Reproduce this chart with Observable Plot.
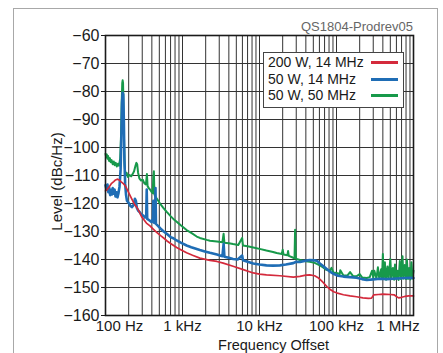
<!DOCTYPE html>
<html><head><meta charset="utf-8">
<script src="https://cdn.jsdelivr.net/npm/d3@7"></script>
<script src="https://cdn.jsdelivr.net/npm/@observablehq/plot@0.6"></script>
<style>
body{margin:0;background:#fff;font-family:"Liberation Sans",Arial,sans-serif;}
#wrap{position:relative;width:443px;height:353px;overflow:hidden;background:#fff;}
#outer{position:absolute;left:13px;top:8px;width:425px;height:400px;border:1px solid #a8a8a8;box-sizing:border-box;}
#chart{position:absolute;left:0;top:0;}
#title{position:absolute;right:30px;top:19px;font-size:13px;color:#666;line-height:16px;white-space:nowrap;}
#legend{position:absolute;left:263px;top:52px;width:141px;height:56px;box-sizing:border-box;border:1px solid #444;background:#fff;padding-top:1px;}
.row{position:relative;height:16.7px;line-height:16.7px;font-size:14px;color:#1a1a1a;padding-left:4px;white-space:nowrap;}
.sw{position:absolute;left:107px;width:27px;height:3px;top:7px;}
</style>
</head><body>
<div id="wrap">
  <div id="outer"></div>
  <div id="chart"></div>
  <div id="title">QS1804-Prodrev05</div>
  <div id="legend"></div>
</div>
<script>
// ---- data ----
const seriesNames = ["200 W, 14 MHz", "50 W, 14 MHz", "50 W, 50 MHz"];
const seriesColors = ["#d42a3c", "#1f6db5", "#17994a"];

const xTickValues = [100, 1000, 10000, 100000, 1000000];
const xTickLabels = ["100 Hz", "1 kHz", "10 kHz", "100 kHz", "1 MHz"];
const yTickValues = [-60, -70, -80, -90, -100, -110, -120, -130, -140, -150, -160];
const yTickLabels = ["−60", "−70", "−80", "−90", "−100", "−110", "−120", "−130", "−140", "−150", "−160"];

// [frequency offset Hz, level dBc/Hz]
const red200W14 = [[100,-115.5],[105,-115],[112,-114],[120,-112.8],[128,-112.2],[135,-111.6],[142,-111.3],[150,-111.6],[160,-112.3],[172,-113],[182,-113.8],[195,-115.5],[208,-117.1],[225,-119],[240,-120.5],[254,-121.3],[275,-123],[295,-124.8],[310,-125.5],[340,-127],[378,-128],[420,-129.2],[462,-130.3],[520,-131.5],[580,-132.5],[624,-133.3],[700,-134.3],[840,-135.7],[950,-136.5],[1130,-137.6],[1350,-138.5],[1680,-139.5],[2270,-140.3],[2800,-140.7],[3380,-141.3],[4540,-142.4],[6150,-143.6],[8300,-144.8],[10000,-145.2],[12300,-145.5],[18400,-145.8],[27500,-146.3],[33500,-146],[40000,-145.6],[45000,-145.5],[52000,-145.8],[57000,-146.4],[62000,-147.3],[67000,-148.2],[75000,-149.7],[82000,-150.6],[92000,-151.5],[100000,-151.9],[123000,-152.6],[150000,-153],[182000,-153.3],[220000,-153.7],[260000,-153.9],[285000,-153.8],[295000,-153.2],[305000,-152.6],[350000,-152.5],[400000,-152.4],[500000,-152.5],[560000,-152.6],[600000,-153.2],[640000,-153.7],[700000,-153.5],[770000,-153.2],[870000,-153],[1000000,-153]];

const blue50W14 = [[100,-113.5],[103,-115],[106,-113.2],[109,-116],[112,-114.5],[115,-117],[118,-115.2],[121,-116.8],[124,-114.5],[127,-116.5],[131,-115],[135,-117.5],[139,-116],[143,-117.8],[147,-116.5],[152,-114],[157,-108],[161,-95],[164,-84],[167,-80.5],[170,-81],[173,-90],[176,-104],[180,-113],[185,-117],[190,-119],[200,-119.8],[210,-120.8],[220,-121.3],[232,-120.5],[241,-118.3],[248,-119],[255,-121.5],[265,-122.5],[280,-123.2],[295,-124],[310,-124.3],[325,-125],[338,-124.5],[343,-115],[348,-125.5],[370,-126],[395,-126.6],[412,-125.5],[418,-119],[424,-126.8],[440,-127],[446,-114.5],[452,-127.3],[480,-128],[520,-129],[570,-130],[624,-130.8],[700,-132],[760,-132.4],[840,-133.2],[950,-134],[1130,-135],[1300,-135.6],[1680,-136.6],[2000,-137.2],[2270,-137.6],[2800,-138.2],[3300,-138.8],[3420,-134.4],[3500,-139],[4000,-139.4],[4540,-139.8],[5200,-140],[5950,-138.6],[6100,-140.3],[7000,-140.8],[8300,-141.4],[10000,-141.8],[12300,-142.1],[15000,-142.2],[18400,-142.1],[22000,-141.8],[27500,-141.3],[30000,-140.8],[33500,-140.9],[40000,-140.4],[45000,-140.2],[52000,-140.3],[56000,-140.5],[60800,-141.4],[67000,-142.3],[74000,-143.3],[82000,-144.3],[91000,-145.1],[105000,-145.8],[123000,-146.1],[150000,-146.3],[182000,-146.5],[215000,-147],[247000,-147.3],[300000,-147.1],[367000,-146.9],[450000,-147],[543000,-146.9],[700000,-146.7],[897000,-146.5],[1000000,-146.6]];

const green50W50 = [[100,-102.2],[102,-103.5],[104,-102.5],[106,-104],[108,-103],[111,-104.8],[114,-103.8],[117,-105.3],[120,-104.5],[124,-106],[128,-105],[132,-106.3],[136,-105.5],[140,-106.8],[145,-105.8],[150,-106.5],[155,-104],[159,-96],[162,-85],[165,-77],[167,-76],[169,-77],[171,-84],[174,-97],[177,-106],[181,-109.5],[188,-109],[195,-110.5],[205,-109.8],[215,-110.3],[225,-109.5],[235,-108.5],[245,-106.5],[252,-105.5],[258,-106],[265,-109],[275,-111],[290,-111.8],[305,-111.5],[320,-112.8],[335,-113.2],[345,-109.5],[352,-113.8],[365,-114.5],[378,-115],[395,-115.8],[410,-116.3],[418,-110.5],[425,-108.5],[432,-116.8],[445,-117.5],[470,-118.5],[510,-120],[560,-121.5],[624,-123],[700,-124.5],[760,-125.5],[840,-126.5],[950,-127.8],[1130,-129.5],[1300,-130.5],[1530,-131.8],[1680,-132.3],[2060,-133],[2270,-133.3],[2800,-133.6],[3300,-133.8],[3420,-130.8],[3500,-134],[4000,-134.2],[4540,-134.5],[5300,-134.8],[5950,-132.3],[6100,-135],[7000,-135.3],[8300,-135.7],[10000,-136.2],[12300,-136.8],[15000,-137.3],[16700,-137.7],[19500,-138],[20000,-136.5],[20500,-138.2],[23000,-138.5],[23500,-137],[24000,-138.7],[27000,-139.3],[28500,-139.6],[29000,-129.4],[29600,-139.7],[33500,-140.2],[40000,-140.6],[45000,-140.8],[52000,-141.2],[60800,-142.1],[67000,-142.8],[74000,-143.7],[82000,-144],[86000,-143],[91000,-144.6],[100000,-144.8],[110000,-145.2],[112000,-143.8],[123000,-145.7],[140000,-145.6],[150000,-144.5],[165000,-146],[182000,-146],[200000,-145.2],[215000,-146.4],[247000,-146.6],[270000,-146.3],[290000,-144],[300000,-146.5],[310000,-144],[330000,-146.8],[345000,-142.8],[360000,-147],[380000,-143.5],[390000,-147],[400000,-138],[410000,-147],[425000,-141],[440000,-147.2],[460000,-142.5],[475000,-147],[500000,-139.8],[515000,-146.8],[540000,-143],[560000,-147.2],[575000,-141.8],[600000,-147],[620000,-144],[640000,-147.3],[665000,-140.5],[690000,-147],[720000,-138.8],[740000,-146.8],[770000,-142],[800000,-147],[820000,-140],[850000,-146.9],[880000,-143],[910000,-147.1],[940000,-141],[970000,-146.8],[1000000,-144]];

const xDomain = [100, 1000000];
const yDomain = [-160, -60];

// ---- chart ----
const xGrid = d3.scaleLog().domain(xDomain).ticks();
const fmtX = d => xTickLabels[xTickValues.indexOf(d)];
const fmtY = d => yTickLabels[yTickValues.indexOf(d)];
const axisStyle = {tickSize: 0, tickPadding: 5, fontSize: 15, label: null, tickFormat: fmtX};

const chart = Plot.plot({
  width: 443, height: 353,
  marginLeft: 105, marginRight: 30, marginTop: 35, marginBottom: 38,
  style: {fontFamily: "Liberation Sans, Arial, sans-serif", color: "#1a1a1a", background: "transparent"},
  x: {type: "log", domain: xDomain},
  y: {domain: yDomain},
  marks: [
    Plot.ruleX(xGrid, {stroke: "#333", strokeWidth: 1}),
    Plot.ruleY(yTickValues, {stroke: "#333", strokeWidth: 1}),
    Plot.line(green50W50, {x: d => d[0], y: d => d[1], stroke: seriesColors[2], strokeWidth: 2}),
    Plot.line(blue50W14, {x: d => d[0], y: d => d[1], stroke: seriesColors[1], strokeWidth: 2.6}),
    Plot.line(red200W14, {x: d => d[0], y: d => d[1], stroke: seriesColors[0], strokeWidth: 1.7}),
    Plot.frame({stroke: "#1a1a1a", strokeWidth: 1.6}),
    Plot.axisY(yTickValues, {tickSize: 4, tickPadding: 2, fontSize: 16, label: null, tickFormat: fmtY}),
    Plot.axisX(xTickValues.slice(1, 4), axisStyle),
    Plot.axisX([xTickValues[0]], {...axisStyle, dx: 14}),
    Plot.axisX([xTickValues[4]], {...axisStyle, dx: -15.5}),
    Plot.text(["Level (dBc/Hz)"], {frameAnchor: "left", rotate: -90, dx: -48, dy: 6, fontSize: 15, textAnchor: "middle", lineAnchor: "middle", fill: "#1a1a1a"}),
    Plot.text(["Frequency Offset"], {frameAnchor: "bottom", dx: 14, dy: 30, fontSize: 14.5, textAnchor: "middle", lineAnchor: "middle", fill: "#1a1a1a"})
  ]
});
document.getElementById("chart").appendChild(chart);

const legend = document.getElementById("legend");
seriesNames.forEach((name, i) => {
  const row = document.createElement("div");
  row.className = "row";
  row.textContent = name;
  const sw = document.createElement("span");
  sw.className = "sw";
  sw.style.background = seriesColors[i];
  row.appendChild(sw);
  legend.appendChild(row);
});
</script>
</body></html>
